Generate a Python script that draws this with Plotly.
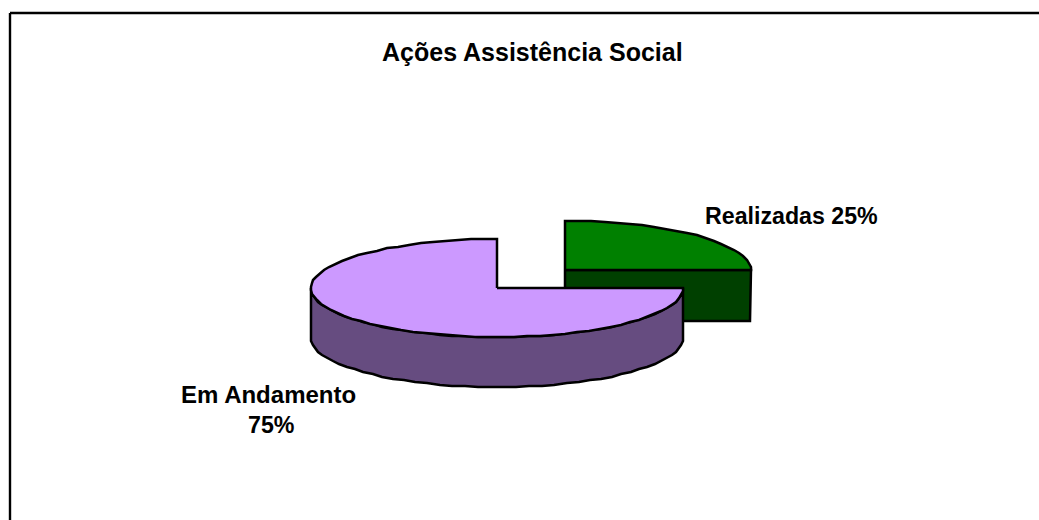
import math
import plotly.graph_objects as go

TITLE = "Ações Assistência Social"
categories = ["Realizadas", "Em Andamento"]
values = [25, 75]
top_colors = ["#008000", "#CC99FF"]
side_colors = ["#004000", "#664C80"]

# Projection of the tilted, exploded pie on the page
RX, RY, DEPTH = 186, 49, 50
centers = [(565, 270), (497, 288)]

total = sum(values)
spans = []
start = 0.0
for v in values:
    end = start + 360.0 * v / total
    spans.append((start, end))
    start = end


def rim(c, deg, dy=0):
    t = math.radians(deg)
    # the source outline is a slightly stepped, pixel-snapped polygon
    return round(c[0] + RX * math.sin(t)), round(c[1] - RY * math.cos(t) + dy)


def arc(c, a, b, dy=0, step=4.0):
    n = max(2, int(abs(b - a) / step) + 1)
    return [rim(c, a + (b - a) * i / (n - 1), dy) for i in range(n)]


def poly(fig, pts, fill):
    pts = list(pts) + [pts[0]]
    fig.add_trace(go.Scatter(
        x=[p[0] for p in pts], y=[p[1] for p in pts],
        mode="lines", fill="toself", fillcolor=fill,
        line=dict(color="black", width=2.5, shape="linear"),
        hoverinfo="skip", showlegend=False))


fig = go.Figure()

# Frame: only the top and left rules are in view
fig.add_shape(type="line", x0=10, x1=1039, y0=13, y1=13, line=dict(color="black", width=2.4))
fig.add_shape(type="line", x0=10, x1=10, y0=13, y1=520, line=dict(color="black", width=2.4))

# Realizadas: cut face below the right-hand radius, then the top
c = centers[0]
a, b = spans[0]
right = rim(c, b)
poly(fig, [c, right, (right[0] - 1, right[1] + DEPTH + 1), (c[0], c[1] + DEPTH + 1)], side_colors[0])
poly(fig, [c] + arc(c, a, b), top_colors[0])

# Em Andamento: front wall (the part of the rim facing the viewer), then the top
c = centers[1]
a, b = spans[1]
front = arc(c, b - 270, 270)
poly(fig, front + [(x, y + DEPTH) for x, y in front[::-1]], side_colors[1])
poly(fig, [c] + arc(c, a, b), top_colors[1])


def label(x, y, text, size):
    fig.add_annotation(x=x, y=y, text=f"<b>{text}</b>", showarrow=False,
                       font=dict(family="Liberation Sans", size=size, color="black"))


label(532, 52, TITLE, 25)
label(791, 216, f"{categories[0]} {values[0]}%", 23.2)
label(268, 394, categories[1], 24)
label(271, 425, f"{values[1]}%", 23.2)

fig.update_layout(
    width=1039, height=520, autosize=False,
    margin=dict(l=0, r=0, t=0, b=0),
    paper_bgcolor="white", plot_bgcolor="white",
    xaxis=dict(range=[0, 1039], visible=False, fixedrange=True),
    yaxis=dict(range=[520, 0], visible=False, fixedrange=True),
)
fig.write_html("out.html", config=dict(displayModeBar=False),
               post_script="document.body.style.margin='0';window.scrollTo(0,0);")
